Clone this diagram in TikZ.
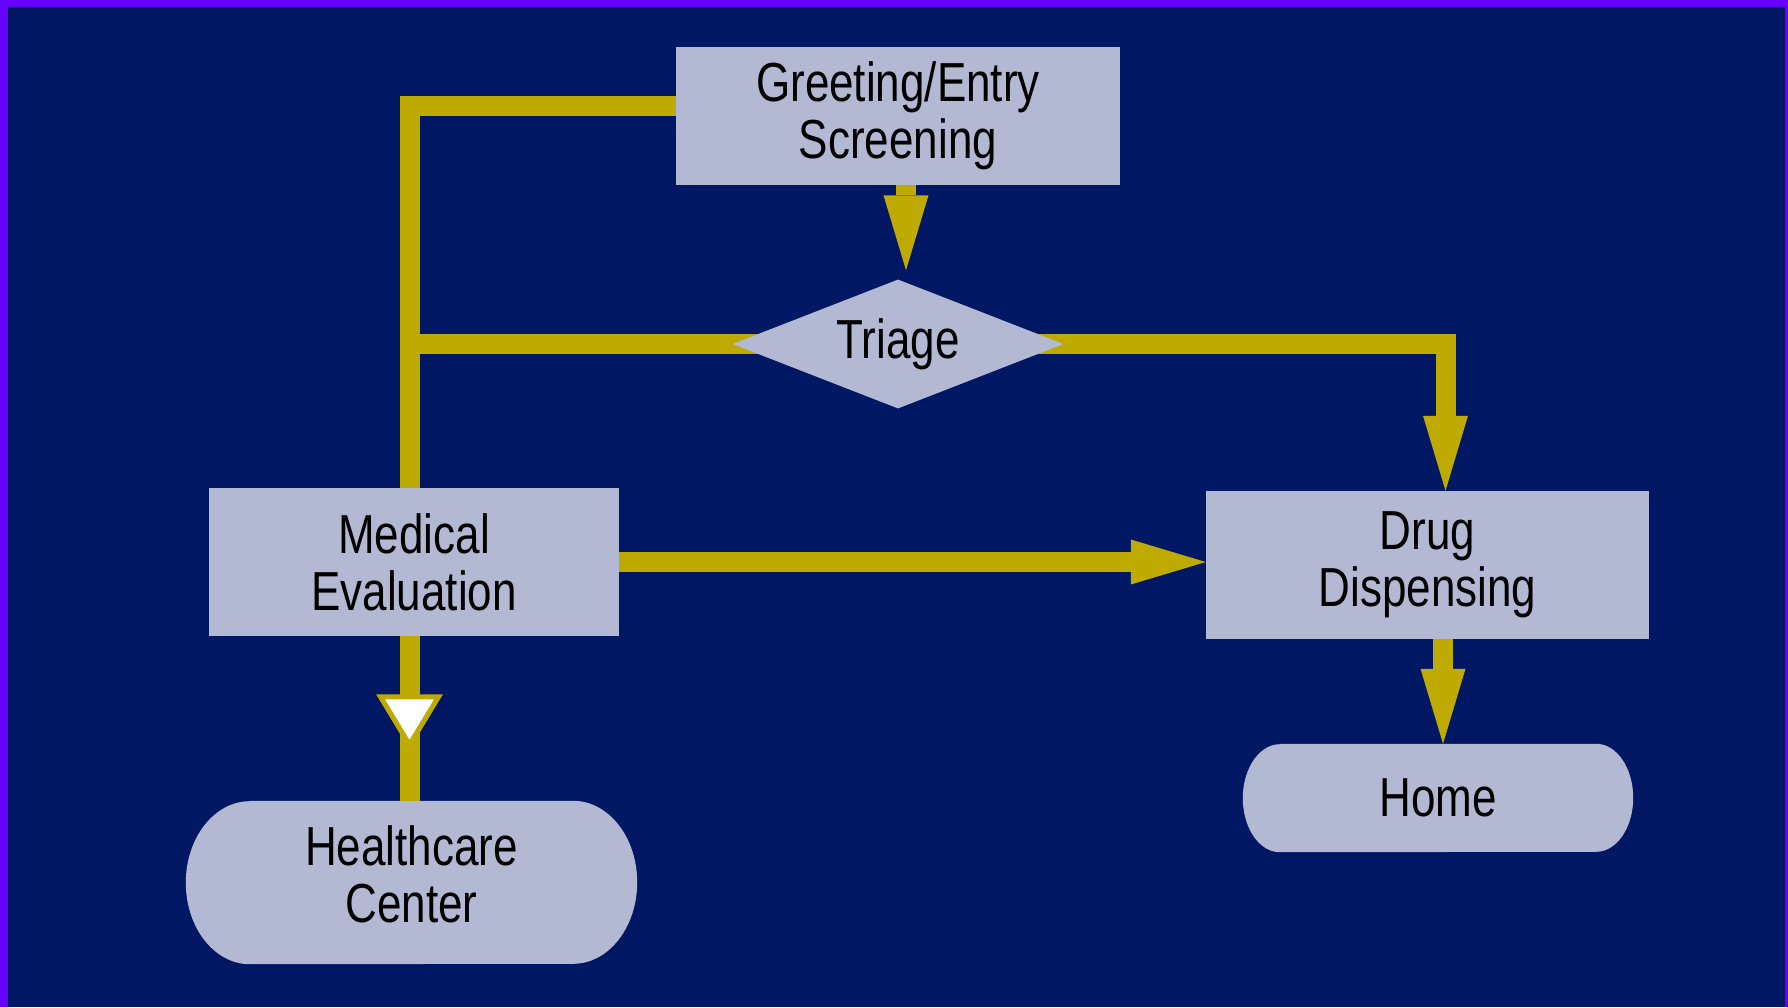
\documentclass[tikz,border=0pt]{standalone}
\usepackage{fontspec}
\setmainfont{Liberation Sans}[FakeStretch=0.8]
\usetikzlibrary{arrows.meta,shapes.geometric,calc}
\definecolor{navy}{HTML}{001764}
\definecolor{purp}{HTML}{6600FF}
\definecolor{boxc}{HTML}{B3B8D3}
\definecolor{gold}{HTML}{BEAA00}
\pgfdeclarelayer{bg}
\pgfdeclarelayer{lines}
\pgfsetlayers{bg,lines,main}
\newcommand\capsulefill[3]{%
  \fill[boxc] ($(#1.north west)+(#2,0)$) -- ($(#1.north east)+(-#2,0)$)
    arc[start angle=90, end angle=-90, x radius=#2pt, y radius=#3pt]
    -- ($(#1.south west)+(#2,0)$)
    arc[start angle=270, end angle=90, x radius=#2pt, y radius=#3pt] -- cycle;}
\begin{document}
\begin{tikzpicture}[x=1pt,y=-1pt,
  txt/.style={font=\fontsize{55pt}{57pt}\selectfont, align=center, text=black, inner sep=0pt},
  procbox/.style={txt, rectangle, fill=boxc},
  decision/.style={txt, diamond, aspect=2.6, fill=boxc},
  terminal/.style={txt, rectangle},
  flow/.style={draw=gold, line width=20pt, line join=miter},
  arr/.style={flow, -{Triangle[length=75pt, width=45pt, line width=0pt]}}
]
\useasboundingbox (0,0) rectangle (1788,1007);
\begin{pgfonlayer}{bg}
  \fill[navy] (0,0) rectangle (1788,1007);
  \fill[purp] (0,0) rectangle (8,1007);
  \fill[purp] (0,0) rectangle (1788,7);
  \fill[purp] (1785,0) rectangle (1788,1007);
\end{pgfonlayer}

\node[procbox, minimum width=444pt, minimum height=138pt] (greet) at (898,116) {Greeting/Entry\\Screening};
\node[decision, minimum width=331pt, minimum height=129pt] (tri) at (898,344) {Triage};
\node[procbox, minimum width=410pt, minimum height=148pt] (med) at (414,562) {Medical\\Evaluation};
\node[procbox, minimum width=443pt, minimum height=148pt] (drug) at (1427.5,565) {Drug\\Dispensing};
\node[terminal, minimum width=451pt, minimum height=163pt, text depth=16pt] (hc) at (411.5,882.5) {Healthcare\\Center};
\node[terminal, minimum width=390pt, minimum height=108pt] (home) at (1438,798) {Home};

\begin{pgfonlayer}{lines}
  \capsulefill{hc}{64}{81.5}
  \capsulefill{home}{37}{54}
  \draw[flow] ([yshift=10pt]greet.west) -| ([xshift=-4.5pt]med.north);
  \draw[flow] (tri.center) -- ([xshift=-4.5pt]med.north |- tri.center);
  \draw[arr] (tri.center) -| ([xshift=18pt]drug.north);
  \draw[arr] (med.east) -- (med.east -| drug.west);
  \draw[arr] ([xshift=8pt]greet.south) -- ([xshift=8pt,yshift=9pt]tri.north);
  \draw[arr] ([xshift=15.5pt]drug.south) -- ([xshift=15.5pt]drug.south |- home.north);
  \draw[flow] ([xshift=-4.5pt]med.south) -- coordinate[pos=0.69] (otip) ([xshift=-4.5pt]med.south |- hc.north);
\end{pgfonlayer}

\filldraw[draw=gold, fill=white, line width=5pt, line join=miter]
  ($(otip)+(-29,-53)$) -- ($(otip)+(29,-53)$) -- ($(otip)+(0,-5)$) -- cycle;
\end{tikzpicture}
\end{document}
